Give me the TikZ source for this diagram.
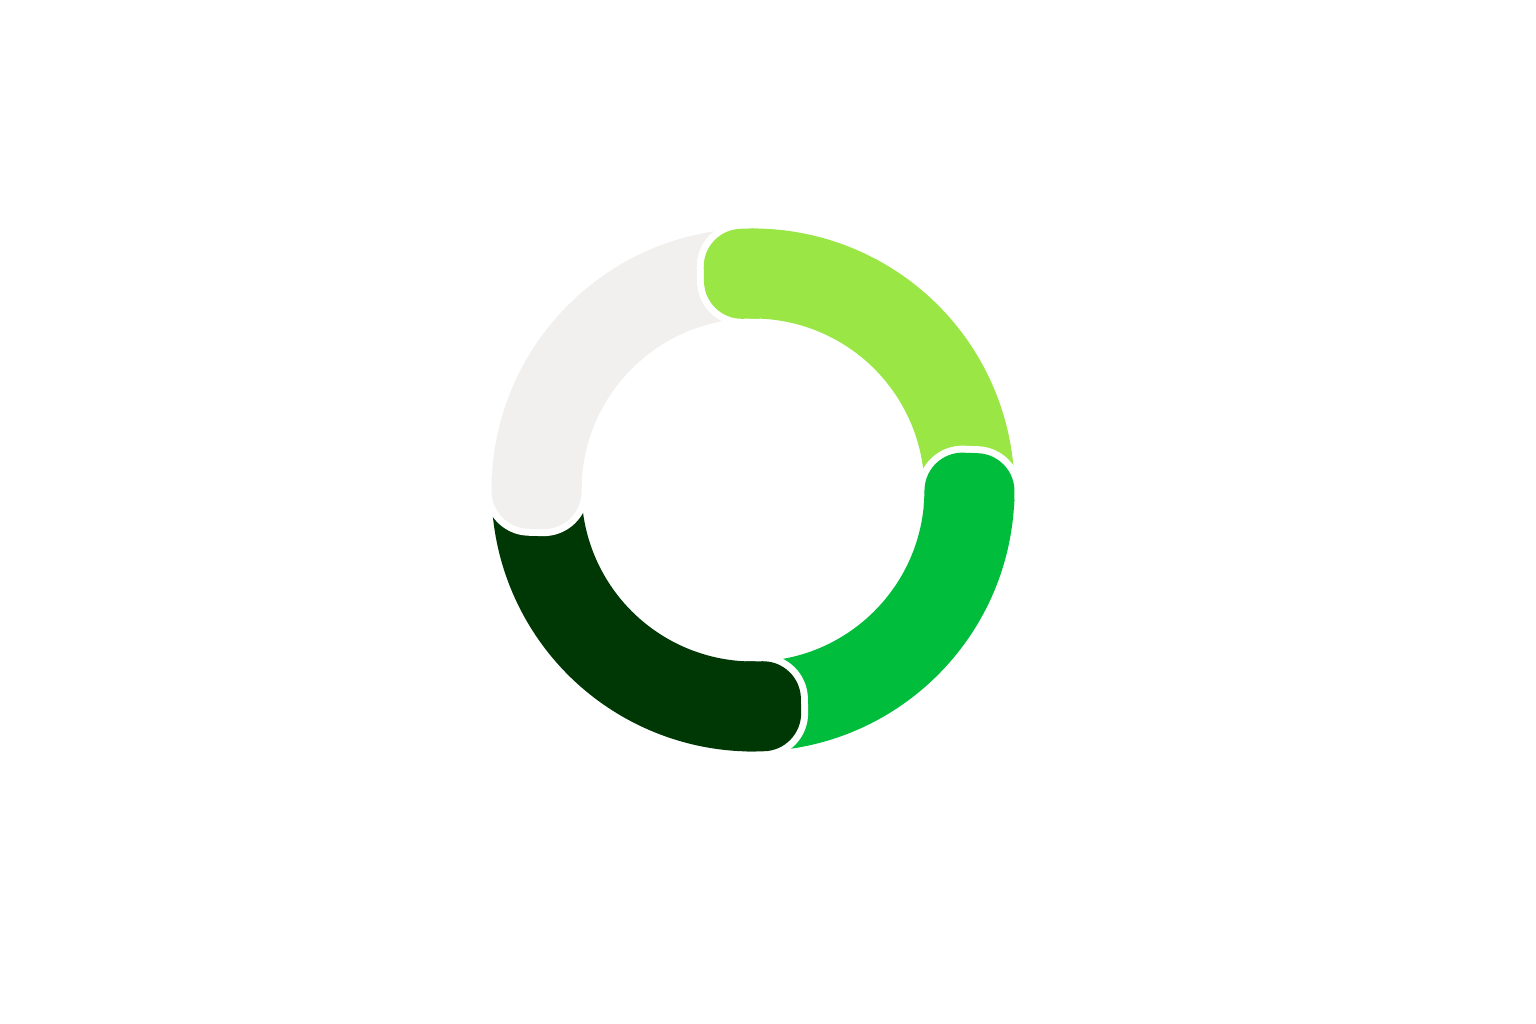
\documentclass[tikz,border=0pt]{standalone}
\usepackage{fontspec}
\setmainfont{Liberation Sans}
\usetikzlibrary{calc}
\definecolor{lgreen}{RGB}{153,230,69}
\definecolor{mgreen}{RGB}{0,190,60}
\definecolor{dgreen}{RGB}{0,56,5}
\definecolor{lgray}{RGB}{241,240,238}
% local frame of a head: x along the body (clockwise), y outward; ring centre at (0,-216.5)
\newcommand{\headend}{%
  arc[start angle=90, end angle=180, radius=38] -- (-45,-7.143)
  arc[start angle=180, end angle=270, radius=38]}
\newcommand{\headgap}[1]{%
  \begin{scope}[shift={($(C)+(#1:216.5)$)}, rotate=#1-90]
    \draw[white, line width=14pt]
      ([shift={(0,-216.5)}]90:261.5) arc[start angle=90, end angle=91.534, radius=261.5]
      \headend arc[start angle=92.339, end angle=90, radius=171.5];
  \end{scope}}
\newcommand{\headfill}[2]{%
  \begin{scope}[shift={($(C)+(#1:216.5)$)}, rotate=#1-90]
    \fill[#2]
      ([shift={(0,-216.5)}]87.808:261.5) arc[start angle=87.808, end angle=91.534, radius=261.5]
      \headend arc[start angle=92.339, end angle=86.657, radius=171.5] -- cycle;
  \end{scope}}
\tikzset{
  ringbody/.style={line width=90pt},
  ttl/.style={font=\fontsize{56}{60}\selectfont, text=white, inner sep=0pt},
  sub/.style={font=\fontsize{42}{50}\selectfont, text=white, inner sep=0pt}
}
\begin{document}
\begin{tikzpicture}[x=1pt,y=1pt]
\useasboundingbox (0,0) rectangle (1536,1024);
\fill[white] (0,0) rectangle (1536,1024);
\coordinate (C) at (753,534);
% ring bodies
\draw[ringbody, lgreen] ($(C)+(91.1:216.5)$) arc[start angle=91.1, end angle=-2.1, radius=216.5];
\draw[ringbody, mgreen] ($(C)+(-2.1:216.5)$) arc[start angle=-2.1, end angle=-89.2, radius=216.5];
\draw[ringbody, dgreen] ($(C)+(-89.2:216.5)$) arc[start angle=-89.2, end angle=-181.6, radius=216.5];
\draw[ringbody, lgray] ($(C)+(178.4:216.5)$) arc[start angle=178.4, end angle=91.1, radius=216.5];
% gaps around heads
\headgap{91.1}
\headgap{-2.1}
\headgap{-89.2}
\headgap{178.4}
% heads
\headfill{91.1}{lgreen}
\headfill{-2.1}{mgreen}
\headfill{-89.2}{dgreen}
\headfill{178.4}{lgray}
% texts
\node[ttl, anchor=base west] (t1) at (33,937) {Fundamentals of Mycology};
\node[sub, anchor=base west] (s1a) at (32,864) {Species, Ecology, and Identification};
\node[sub, anchor=base west] (s1b) at (32,811) {Theory};
\node[ttl, anchor=base east] (t2) at (1457,937) {Guided Hike Leadership};
\node[sub, anchor=base east] (s2a) at (1446,864) {Prepare for Independent};
\node[sub, anchor=base east] (s2b) at (1444,811) {Group Leadership};
\node[ttl, anchor=base west] (t3) at (35,187) {Hands-On Learning};
\node[sub, anchor=base west] (s3a) at (35,114) {Practice on guided mushroom};
\node[sub, anchor=base west] (s3b) at (35,61) {hikes};
\node[ttl, anchor=base east] (t4) at (1475,187) {Advanced \& Conservation};
\node[sub, anchor=base east] (s4a) at (1477,114) {Extended species knowledge};
\node[sub, anchor=base east] (s4b) at (1477,61) {and legal basics};
\end{tikzpicture}
\end{document}
